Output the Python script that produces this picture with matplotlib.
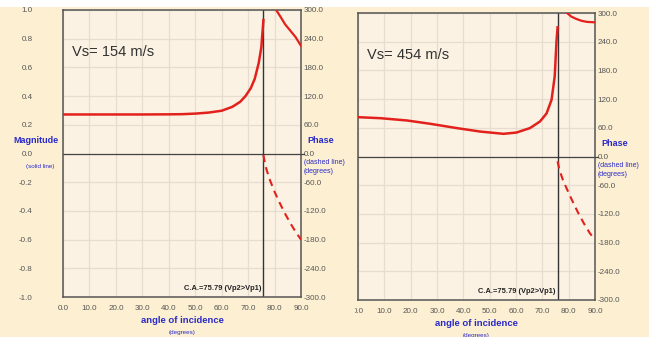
import numpy as np
import matplotlib
matplotlib.use("Agg")
import matplotlib.pyplot as plt
from matplotlib.patches import Rectangle
from matplotlib.transforms import Bbox

plt.rcParams["font.family"] = ["Liberation Sans", "DejaVu Sans"]

# ── Data ─────────────────────────────────────────────────────────
crit_angle = 75.79
labels_vs = ["Vs= 154 m/s", "Vs= 454 m/s"]

# panel 1 (Vs = 154)
mag1_ang = [0, 10, 20, 30, 40, 45, 50, 55, 60, 64, 67, 69, 71, 72.5, 74, 75, 75.79]
mag1_val = [0.272, 0.272, 0.272, 0.272, 0.273, 0.274, 0.278, 0.285, 0.298, 0.325,
            0.36, 0.40, 0.455, 0.52, 0.63, 0.74, 0.93]
mag1b_ang = [80.6, 82, 84, 86, 88, 90]
mag1b_val = [1.0, 0.96, 0.90, 0.855, 0.81, 0.75]
ph1_ang = [75.79, 76.5, 78, 80, 82, 84, 86, 88, 90]
ph1_val = [-3, -25, -52, -80, -104, -126, -146, -164, -180]

# panel 2 (Vs = 454)
mag2_ang = [0, 8.5, 18.6, 27.4, 37.5, 46.3, 55.2, 60.2, 65.3, 69.1, 71.6, 73.5,
            74.7, 75.4, 75.79]
mag2_val = [0.274, 0.267, 0.251, 0.228, 0.198, 0.174, 0.158, 0.167, 0.198, 0.244,
            0.30, 0.395, 0.558, 0.81, 0.90]
mag2b_ang = [79.4, 81, 83, 85, 87, 90]
mag2b_val = [1.0, 0.975, 0.958, 0.945, 0.938, 0.935]
ph2_ang = [75.79, 76.5, 78, 80, 82, 84, 86, 88, 90]
ph2_val = [-10, -28, -52, -76, -100, -122, -142, -160, -174]

x_ticks = np.arange(0, 91, 10)
mag_ticks = np.round(np.arange(-1.0, 1.01, 0.2), 1)
ph_ticks = np.arange(-300, 301, 60)

# ── Style ────────────────────────────────────────────────────────
outer_bg = "#FDF0D2"
plot_bg = "#FBF2E3"
grid_c = "#E6DDD0"
red = "#E3211C"
blue = "#2A2AC8"
tick_c = "#555555"
tick_fs = 5.8

fig = plt.figure(figsize=(6.49, 3.37), dpi=100, facecolor=outer_bg)
fig.patches.append(Rectangle((0, 1 - 7 / 337), 1, 7 / 337, transform=fig.transFigure,
                             facecolor="white", edgecolor="none", zorder=0))


def px(x0, y_top, x1, y_bot):
    return [x0 / 649, 1 - y_bot / 337, (x1 - x0) / 649, (y_bot - y_top) / 337]


def fmt(v):
    return f"{abs(v):.1f}" if v == 0 else f"{v:.1f}"


def make_panel(rect, vs_label, mag, magb, ph, show_left):
    ax = fig.add_axes(rect)
    ax.set_facecolor(plot_bg)
    ax.set_xlim(0, 90)
    ax.set_ylim(-1, 1)
    ax.set_xticks(x_ticks)
    ax.set_yticks(mag_ticks)
    ax.set_xticklabels([fmt(v) for v in x_ticks], fontsize=tick_fs, color=tick_c)
    ax.set_yticklabels([fmt(v) for v in mag_ticks], fontsize=tick_fs, color=tick_c)
    ax.tick_params(length=0, pad=6)
    ax.tick_params(axis="y", pad=22)
    ax.grid(True, color=grid_c, lw=0.9)
    for s in ax.spines.values():
        s.set_color("#555555")
        s.set_linewidth(1.1)

    ax.axhline(0, color="#444444", lw=0.9, zorder=2)
    ax.axvline(crit_angle, color="#333333", lw=1.0, zorder=2)

    ax.plot(mag[0], mag[1], color=red, lw=1.8, zorder=3)
    ax.plot(magb[0], magb[1], color=red, lw=1.6, zorder=3)

    ax2 = ax.twinx()
    ax2.set_ylim(-300, 300)
    ax2.set_yticks(ph_ticks)
    ax2.set_yticklabels([fmt(v) for v in ph_ticks], fontsize=tick_fs, color=tick_c)
    ax2.tick_params(length=0, pad=2)
    for s in ax2.spines.values():
        s.set_visible(False)
    ax2.plot(ph[0], ph[1], color=red, lw=1.5, ls=(0, (3.5, 2.5)), zorder=3)
    ax2.plot([90, 91], [0, 0], color="#444444", lw=0.9, clip_on=False)

    ax.text(3.5, 0.68, vs_label, fontsize=10.5, color="#333333")
    ax.text(crit_angle - 0.8, -0.965, f"C.A.={crit_angle:.2f} (Vp2>Vp1)",
            fontsize=5.4, fontweight="bold", ha="right", va="bottom",
            color="#222222")

    ax.text(0.5, -0.083, "angle of incidence", transform=ax.transAxes,
            fontsize=6.8, fontweight="bold", color=blue, ha="center", va="center")
    ax.text(0.5, -0.125, "(degrees)", transform=ax.transAxes,
            fontsize=4.5, color=blue, ha="center", va="center")

    ax.text(1.025, 0.547, "Phase", transform=ax.transAxes, fontsize=6.5,
            fontweight="bold", color=blue, ha="left", va="center")
    ax.text(1.013, 0.47, "(dashed line)", transform=ax.transAxes, fontsize=5,
            color=blue, ha="left", va="center")
    ax.text(1.013, 0.438, "(degrees)", transform=ax.transAxes, fontsize=5,
            color=blue, ha="left", va="center")

    if show_left:
        ax.text(-0.115, 0.545, "Magnitude", transform=ax.transAxes, fontsize=6.5,
                fontweight="bold", color=blue, ha="center", va="center")
        ax.text(-0.095, 0.455, "(solid line)", transform=ax.transAxes, fontsize=4.5,
                color=blue, ha="center", va="center")
    else:
        # the second screenshot is cropped just left of its plot frame
        clip = Bbox.from_extents(355, 0, 649, 337)
        for t in ax.get_yticklabels():
            t.set_visible(False)
        for t in ax.get_xticklabels():
            t.set_clip_box(clip)
            t.set_clip_on(True)
    return ax


make_panel(px(63, 10, 301, 297), labels_vs[0],
           (mag1_ang, mag1_val), (mag1b_ang, mag1b_val), (ph1_ang, ph1_val), True)
make_panel(px(358, 13, 595, 300), labels_vs[1],
           (mag2_ang, mag2_val), (mag2b_ang, mag2b_val), (ph2_ang, ph2_val), False)

fig.savefig("out.png", dpi=100, facecolor=outer_bg)
